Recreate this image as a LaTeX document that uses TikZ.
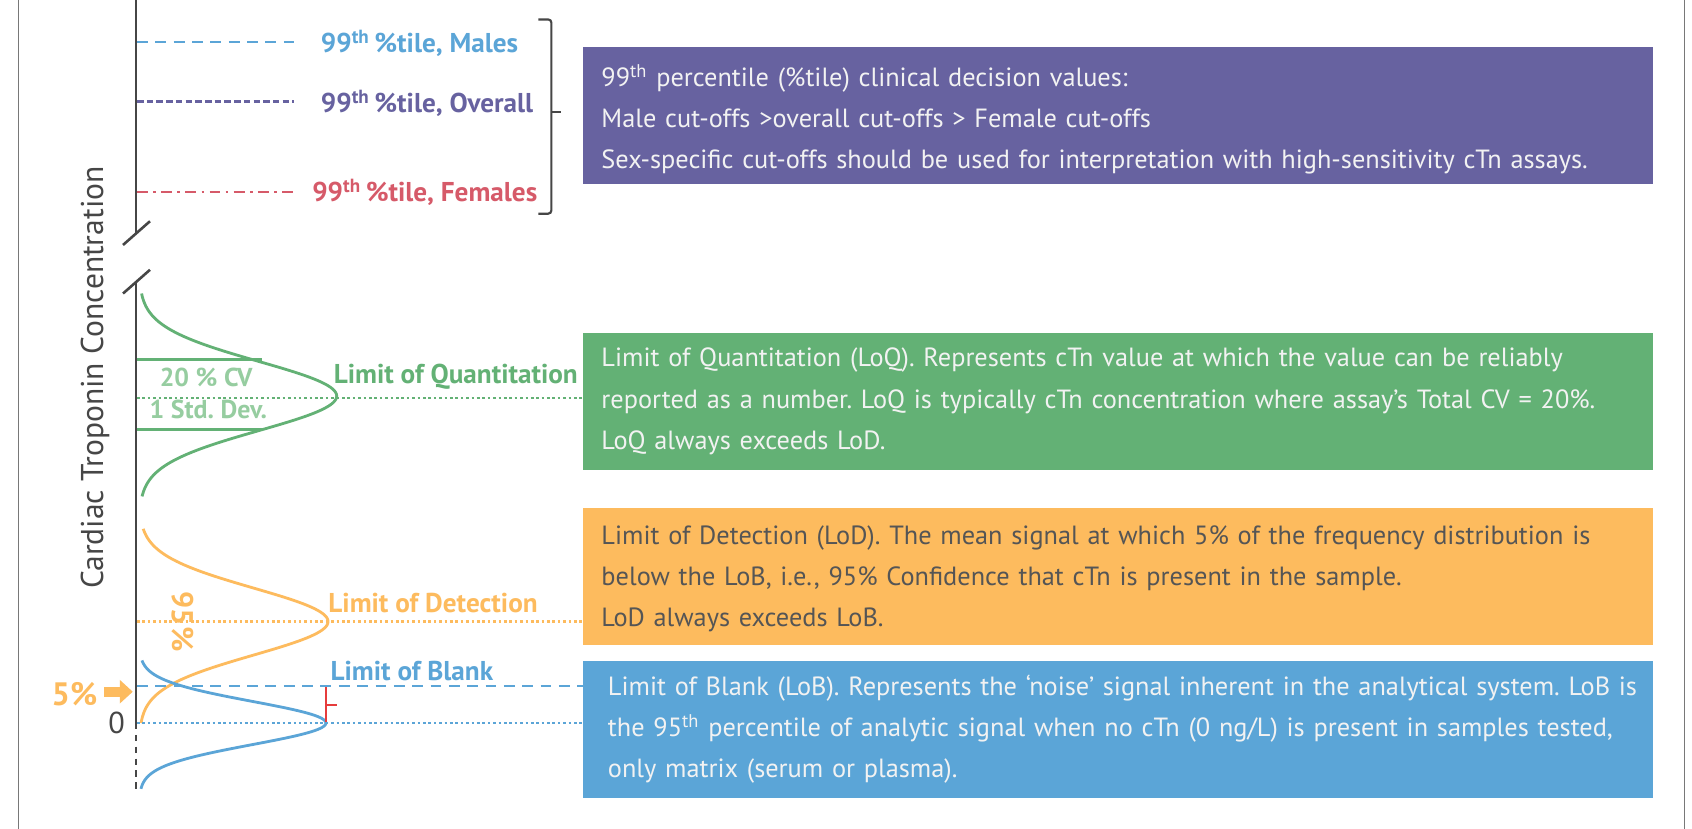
\documentclass[tikz,border=0pt]{standalone}
\usepackage{fontspec}
\setmainfont{PT Sans}
\frenchspacing
\definecolor{cpurple}{RGB}{103,98,160}
\definecolor{cgreen}{RGB}{99,177,117}
\definecolor{clgreen}{RGB}{150,205,160}
\definecolor{corange}{RGB}{253,187,94}
\definecolor{cblue}{RGB}{91,165,215}
\definecolor{cred}{RGB}{214,90,105}
\definecolor{cbrred}{RGB}{230,60,60}
\definecolor{boxtext}{RGB}{242,242,242}
\definecolor{otext}{RGB}{85,85,85}
\definecolor{axgray}{RGB}{70,70,70}
\definecolor{framegray}{RGB}{120,120,120}
\begin{document}
\begin{tikzpicture}[x=0.5pt,y=-0.5pt,
  infobox/.style={rectangle, anchor=north west, minimum width=495.5pt, minimum height=63.5pt,
    inner xsep=8.5pt, text width=478.5pt, align=left, inner ysep=0pt,
    font=\frenchspacing\fontsize{12.2}{19}\selectfont},
  lab/.style={font=\bfseries\fontsize{12.6}{14}\selectfont, inner sep=0pt},
  slab/.style={font=\bfseries\fontsize{12}{13}\selectfont, inner sep=0pt},
  curve/.style={line width=1.3pt, line join=round},
  frame/.style={draw=framegray, line width=0.7pt},
  axis/.style={draw=axgray, line width=1.2pt},
  dotl/.style={line width=1pt, dash pattern=on 1.2pt off 1.3pt},
  dashl/.style={line width=1pt, dash pattern=on 5pt off 3.5pt},
]
\useasboundingbox (0,0) rectangle (1568,768);
\fill[white] (0,0) rectangle (1568,768);
% frame
\coordinate (fl1) at (17,0); \coordinate (fl2) at (17,768);
\coordinate (fr1) at (1561,0); \coordinate (fr2) at (1561,768);
\draw[frame] (fl1) -- (fl2);
\draw[frame] (fr1) -- (fr2);
% axis
\coordinate (a0) at (126,0); \coordinate (a1) at (126,216);
\coordinate (a2) at (126,261); \coordinate (a3) at (126,670); \coordinate (a4) at (126,734);
\draw[axis] (a0) -- (a1);
\draw[axis] (a2) -- (a3);
\draw[axis, line width=1pt, dash pattern=on 3pt off 2.5pt] (a3) -- (a4);
\coordinate (s1a) at (114,227); \coordinate (s1b) at (139,205);
\coordinate (s2a) at (114,272); \coordinate (s2b) at (139,250);
\draw[axis] (s1a) -- (s1b);
\draw[axis] (s2a) -- (s2b);
\node[rotate=90, text=axgray, font=\fontsize{14.6}{16}\selectfont, inner sep=0pt] (ylab) at (88,350) {Cardiac Troponin Concentration};
\node[text=axgray, font=\fontsize{14}{15}\selectfont, inner sep=0pt] (zero) at (108,670) {0};

% boxes
\node[infobox, fill=cpurple, text=boxtext] (pbox) at (540,43) {\mbox{\rule{0pt}{14pt}99\textsuperscript{th} percentile (\%tile) clinical decision values:}\\
\mbox{Male cut-offs >overall cut-offs > Female cut-offs}\\
\mbox{Sex-specific cut-offs should be used for interpretation with high-sensitivity cTn assays.}};
\node[infobox, fill=cgreen, text=boxtext] (gbox) at (540,308) {\mbox{Limit of Quantitation (LoQ). Represents cTn value at which the value can be reliably}\\
\mbox{reported as a number. LoQ is typically cTn concentration where assay’s Total CV = 20\%.}\\
\mbox{LoQ always exceeds LoD.}};
\node[infobox, fill=corange, text=otext] (obox) at (540,470) {\mbox{\rule{0pt}{11pt}Limit of Detection (LoD). The mean signal at which 5\% of the frequency distribution is}\\
\mbox{below the LoB, i.e., 95\% Confidence that cTn is present in the sample.}\\
\mbox{LoD always exceeds LoB.}};
\node[infobox, fill=cblue, text=boxtext, inner xsep=11.5pt, text width=472.5pt] (bbox) at (540,612) {\mbox{Limit of Blank (LoB). Represents the ‘noise’ signal inherent in the analytical system. LoB is}\\
\mbox{the 95\textsuperscript{th} percentile of analytic signal when no cTn (0 ng/L) is present in samples tested,}\\
\mbox{only matrix (serum or plasma).}};

% 99th percentile lines
\node[lab, text=cblue, anchor=west] (lm) at (297,40) {99\textsuperscript{th}\,\%tile, Males};
\node[lab, text=cpurple, anchor=west] (lo) at (297,96) {99\textsuperscript{th}\,\%tile, Overall};
\node[lab, text=cred, anchor=west] (lf) at (289,178) {99\textsuperscript{th}\,\%tile, Females};
\coordinate (m0) at (127,39); \coordinate (m1) at (272,39);
\coordinate (o0) at (127,94); \coordinate (o1) at (272,94);
\coordinate (f0) at (127,178); \coordinate (f1) at (272,178);
\draw[cblue, line width=1pt, dash pattern=on 5pt off 3.5pt] (m0) -- (m1);
\draw[cpurple, line width=1pt, dash pattern=on 3pt off 1.5pt] (o0) -- (o1);
\draw[cred, line width=1pt, dash pattern=on 5pt off 2.5pt on 1.2pt off 2.5pt] (f0) -- (f1);
% bracket
\coordinate (b1) at (499,18); \coordinate (b2) at (511,18);
\coordinate (b3) at (511,198); \coordinate (b4) at (499,198);
\coordinate (bt0) at (511,104); \coordinate (bt1) at (520,104);
\draw[axgray, line width=1pt, rounded corners=1.5pt] (b1) -- (b2) -- (b3) -- (b4);
\draw[axgray, line width=1pt] (bt0) -- (bt1);

% LoQ (green)
\coordinate (gd0) at (127,369);
\draw[cgreen, dotl] (gd0) -- (gbox.west |- gd0);
\draw[cgreen, curve] plot[domain=272:460, samples=120] ({129+183*exp(-((\x-367)*(\x-367))/2048)},\x);
\coordinate (gl0) at (127,333); \coordinate (gl1) at (243,333);
\coordinate (gl2) at (127,398); \coordinate (gl3) at (243,398);
\draw[cgreen, line width=1.3pt] (gl0) -- (gl1);
\draw[cgreen, line width=1.3pt] (gl2) -- (gl3);
\node[slab, text=clgreen] (cv) at (191,350) {20 \% CV};
\node[slab, text=clgreen] (sd) at (193,379) {1 Std. Dev.};
\node[lab, text=cgreen, anchor=west] (loq) at (309,349) {Limit of Quantitation};

% LoD (orange)
\coordinate (od0) at (127,576);
\draw[corange, dotl] (od0) -- (obox.west |- od0);
\draw[corange, curve] plot[domain=490:670, samples=120] ({129+175*exp(-((\x-576)*(\x-576))/1922)},\x);
\node[lab, text=corange, anchor=west] (lod) at (304,559) {Limit of Detection};
\node[text=corange, rotate=-90, font=\bfseries\fontsize{14}{15}\selectfont, inner sep=0pt] (p95) at (169,576) {95\%};

% LoB (blue)
\coordinate (bd0) at (127,636); \coordinate (bd1) at (127,670);
\draw[cblue, dashl] (bd0) -- (bbox.west |- bd0);
\draw[cblue, dotl] (bd1) -- (bbox.west |- bd1);
\draw[cblue, curve] plot[domain=612:731, samples=120] ({129+173*exp(-((\x-670)*(\x-670))/800)},\x);
\node[lab, text=cblue, anchor=west] (lob) at (306,622) {Limit of Blank};
% red bracket
\coordinate (r0) at (302,637); \coordinate (r1) at (302,669);
\coordinate (r2) at (302,653); \coordinate (r3) at (312,653);
\draw[cbrred, line width=1pt] (r0) -- (r1);
\draw[cbrred, line width=1pt] (r2) -- (r3);
% 5% arrow
\node[text=corange, font=\bfseries\fontsize{15}{16}\selectfont, inner sep=0pt] (p5) at (69,643) {5\%};
\fill[corange] (96,636.5) rectangle (112,645.5);
\fill[corange] (111,630) -- (123,641) -- (111,652) -- cycle;
\end{tikzpicture}
\end{document}
